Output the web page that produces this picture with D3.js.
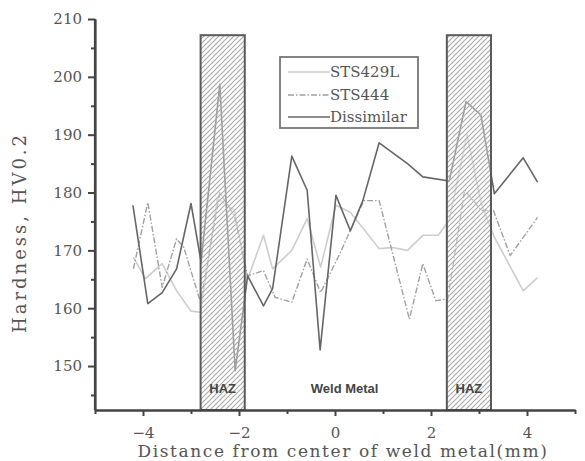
<!DOCTYPE html>
<html>
<head>
<meta charset="utf-8">
<script src="https://cdn.jsdelivr.net/npm/d3@7"></script>
<style>
  body { margin: 0; background: #fff; }
  svg { display: block; }
</style>
</head>
<body>
<div class="hardnessGraph"></div>
<script>
// Series (distance in mm, hardness HV0.2)
var sts429lX = [-4.2, -3.95, -3.6, -3.3, -3.0, -2.8, -2.45, -2.1, -1.82, -1.49, -1.3, -0.9, -0.58, -0.3, 0.02, 0.32, 0.92, 1.2, 1.51, 1.83, 2.15, 2.38, 2.75, 3.05, 3.32, 3.92, 4.22];
var sts429lY = [168.8, 165.1, 167.7, 163.0, 159.5, 159.3, 179.0, 177.0, 165.0, 172.6, 166.8, 170.0, 175.5, 167.1, 177.8, 176.6, 170.3, 170.5, 170.0, 172.6, 172.6, 175.2, 190.0, 178.0, 172.3, 163.0, 165.3];

var sts444X = [-4.2, -3.9, -3.6, -3.3, -3.15, -2.8, -2.4, -2.1, -1.82, -1.49, -1.25, -0.9, -0.58, -0.3, 0.1, 0.6, 0.92, 1.55, 1.83, 2.1, 2.35, 2.7, 3.05, 3.3, 3.65, 4.22];
var sts444Y = [166.8, 178.3, 163.6, 172.0, 170.5, 161.0, 180.0, 176.0, 165.6, 166.5, 161.9, 161.0, 168.5, 162.7, 169.4, 178.6, 178.6, 158.1, 167.7, 161.3, 161.6, 180.4, 176.9, 176.9, 169.1, 175.7];

var dissimilarX = [-4.21, -3.9, -3.6, -3.3, -3.0, -2.79, -2.4, -2.08, -1.82, -1.49, -1.3, -0.9, -0.58, -0.31, 0.02, 0.32, 0.58, 0.92, 1.51, 1.83, 2.38, 2.73, 3.04, 3.32, 3.92, 4.22];
var dissimilarY = [177.8, 160.8, 162.7, 166.8, 178.1, 168.0, 198.7, 149.2, 165.6, 160.4, 163.4, 186.3, 180.4, 152.8, 179.5, 173.4, 178.6, 188.6, 185.0, 182.7, 182.0, 195.7, 193.4, 179.8, 186.0, 181.8];

// HAZ zones [from, to] and their top value
var hazFrom = [-2.8, 2.33];
var hazTo = [-1.88, 3.25];
var hazTop = 207.2;

var seriesNames = ["STS429L", "STS444", "Dissimilar"];
var xTicks = [-4, -2, 0, 2, 4];
var xMinorTicks = [-5, -3, -1, 1, 3, 5];
var yTicks = [150, 160, 170, 180, 190, 200, 210];
var yMinorTicks = [145, 155, 165, 175, 185, 195, 205];

var chartWidth = 585, chartHeight = 461;
var plotLeft = 95, plotRight = 575, plotTop = 19, plotBottom = 410;

var svg = d3.select(".hardnessGraph").append("svg")
    .attr("width", chartWidth)
    .attr("height", chartHeight);

var x = d3.scaleLinear().domain([-5, 5]).range([plotLeft, plotRight]);
var y = d3.scaleLinear().domain([142.4, 210]).range([plotBottom, plotTop]);

//Hatch pattern for the HAZ boxes.
var defs = svg.append("defs");
var pat = defs.append("pattern")
    .attr("id", "hatch")
    .attr("patternUnits", "userSpaceOnUse")
    .attr("width", 5)
    .attr("height", 5);
pat.append("rect").attr("width", 5).attr("height", 5).attr("fill", "rgba(255,255,255,0.35)");
pat.append("path")
    .attr("d", "M-1,1 l2,-2 M0,5 l5,-5 M4,6 l2,-2")
    .attr("stroke", "#a8a8a8")
    .attr("stroke-width", 1.1);

var line = d3.line()
    .x(function(d) { return x(d[0]); })
    .y(function(d) { return y(d[1]); });

var series = [
    { name: seriesNames[0], xs: sts429lX, ys: sts429lY, color: "#cdcdcd", dash: null, w: 1.6 },
    { name: seriesNames[1], xs: sts444X, ys: sts444Y, color: "#a0a0a0", dash: "6,2,1.5,2", w: 1.4 },
    { name: seriesNames[2], xs: dissimilarX, ys: dissimilarY, color: "#666666", dash: null, w: 1.6 }
];

//Draw the series lines.
series.forEach(function(s) {
    svg.append("path")
        .datum(d3.zip(s.xs, s.ys))
        .attr("d", line)
        .attr("fill", "none")
        .attr("stroke", s.color)
        .attr("stroke-width", s.w)
        .attr("stroke-dasharray", s.dash)
        .attr("stroke-linejoin", "round");
});

//HAZ boxes on top of the lines.
svg.selectAll(".haz").data(d3.zip(hazFrom, hazTo)).enter()
    .append("rect")
    .attr("class", "haz")
    .attr("x", function(d) { return x(d[0]); })
    .attr("y", y(hazTop))
    .attr("width", function(d) { return x(d[1]) - x(d[0]); })
    .attr("height", plotBottom - y(hazTop))
    .attr("fill", "url(#hatch)")
    .attr("stroke", "#5a5a5a")
    .attr("stroke-width", 2);

//Zone labels.
var zoneLabels = [["HAZ", (hazFrom[0] + hazTo[0]) / 2], ["Weld Metal", 0.2], ["HAZ", (hazFrom[1] + hazTo[1]) / 2]];
svg.selectAll(".zone").data(zoneLabels).enter()
    .append("text")
    .attr("x", function(d) { return x(d[1]); })
    .attr("y", 393)
    .attr("text-anchor", "middle")
    .attr("font-family", "Liberation Sans, Arial, sans-serif")
    .attr("font-weight", "bold")
    .attr("font-size", 13)
    .attr("fill", "#444")
    .text(function(d) { return d[0]; });

//Axes.
var axisColor = "#444";
var serif = "DejaVu Serif, serif";

var yAxis = svg.append("g").attr("transform", "translate(" + plotLeft + ",0)")
    .call(d3.axisLeft(y).tickValues(yTicks).tickSize(7).tickSizeOuter(0).tickPadding(6));
var yMinor = svg.append("g").attr("transform", "translate(" + plotLeft + ",0)")
    .call(d3.axisLeft(y).tickValues(yMinorTicks).tickSize(4).tickSizeOuter(0).tickFormat(""));
var xAxis = svg.append("g").attr("transform", "translate(0," + plotBottom + ")")
    .call(d3.axisBottom(x).tickValues(xTicks).tickSize(6).tickSizeOuter(0).tickPadding(11)
        .tickFormat(function(d) { return d < 0 ? "\u2212" + Math.abs(d) : d; }));
var xMinor = svg.append("g").attr("transform", "translate(0," + plotBottom + ")")
    .call(d3.axisBottom(x).tickValues(xMinorTicks).tickSize(4).tickSizeOuter(0).tickFormat(""));

[yAxis, yMinor, xAxis, xMinor].forEach(function(g) {
    g.select(".domain").attr("stroke", axisColor).attr("stroke-width", 2.2);
    g.selectAll(".tick line").attr("stroke", axisColor).attr("stroke-width", 2);
    g.selectAll(".tick text").attr("font-family", serif).attr("font-size", 15).attr("fill", "#555");
});
yAxis.select(".domain").attr("d", "M0," + plotTop + "V" + plotBottom);

//Axis titles.
svg.append("text")
    .attr("transform", "translate(26," + ((plotTop + plotBottom) / 2 + 18) + ") rotate(-90)")
    .attr("text-anchor", "middle")
    .attr("font-family", serif)
    .attr("font-size", 18)
    .attr("letter-spacing", 3)
    .attr("fill", "#555")
    .text("Hardness, HV0.2");

svg.append("text")
    .attr("x", 343)
    .attr("y", 457)
    .attr("text-anchor", "middle")
    .attr("font-family", serif)
    .attr("font-size", 17)
    .attr("letter-spacing", 1.6)
    .attr("fill", "#555")
    .text("Distance from center of weld metal(mm)");

//Legend.
var legend = svg.append("g").attr("transform", "translate(280,57)");
legend.append("rect")
    .attr("width", 138).attr("height", 71)
    .attr("fill", "#fff")
    .attr("stroke", "#777")
    .attr("stroke-width", 1.8);
var legendY = [15, 38, 60];
series.forEach(function(s, i) {
    legend.append("line")
        .attr("x1", 8).attr("x2", 50)
        .attr("y1", legendY[i]).attr("y2", legendY[i])
        .attr("stroke", s.color)
        .attr("stroke-width", s.w)
        .attr("stroke-dasharray", s.dash);
    legend.append("text")
        .attr("x", 50).attr("y", legendY[i] + 5)
        .attr("font-family", serif)
        .attr("font-size", 15)
        .attr("fill", "#555")
        .text(s.name);
});
</script>
</body>
</html>
